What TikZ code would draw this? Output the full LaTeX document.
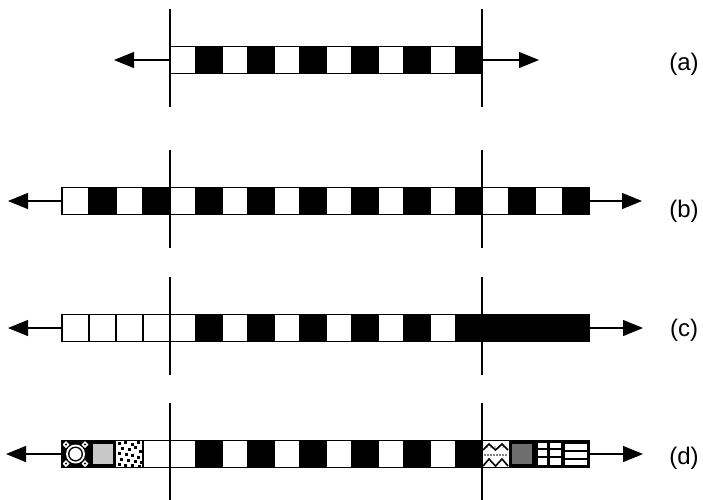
\documentclass[tikz,border=0pt]{standalone}
\usepackage{fontspec}
\setmainfont{Liberation Sans}
\usetikzlibrary{arrows.meta}
\def\XX{{62,89,116,143,170,196,222,248,274,300,326,352,378,404,430,456,482,508.75,535.5,562.25,589}}
\newcommand\mycell[3]{%
  \pgfmathsetmacro\xa{\XX[#2]}\pgfmathsetmacro\xb{\XX[#2+1]}%
  \path[#3] (\xa,#1-13.5) rectangle (\xb,#1+13.5);}
\begin{document}
\begin{tikzpicture}[x=1pt,y=-1pt,
  wcell/.style={fill=white,draw=black,line width=1.2pt},
  bcell/.style={fill=black,draw=black,line width=1.2pt},
  frame/.style={draw=black,line width=1.8pt},
  guide/.style={line width=2pt},
  arr/.style={line width=1.2pt,-{Triangle[length=20pt,width=16pt]}},
  lbl/.style={font=\fontsize{24}{28}\selectfont, anchor=center, inner sep=0pt}]
\useasboundingbox[fill=white] (0,0) rectangle (703,499);
% ---------- (a)
\def\ry{60}
\foreach \i in {4,...,15}{\pgfmathparse{mod(\i,2)==0?"wcell":"bcell"}\edef\st{\pgfmathresult}\mycell{\ry}{\i}{\st}}
\path[frame] (170,\ry-13.5) rectangle (482,\ry+13.5);
\draw[guide] (170,\ry-51) -- (170,\ry+47);
\draw[guide] (482,\ry-51) -- (482,\ry+47);
\coordinate (aL) at (170,\ry); \coordinate (aLt) at (114,\ry);
\coordinate (aR) at (482,\ry); \coordinate (aRt) at (539,\ry);
\draw[arr] (aL) -- (aLt); \draw[arr] (aR) -- (aRt);
\node[lbl] (la) at (684,\ry+4) {(a)};
% ---------- (b)
\def\ry{201}
\foreach \i in {0,...,19}{\pgfmathparse{mod(\i,2)==0?"wcell":"bcell"}\edef\st{\pgfmathresult}\mycell{\ry}{\i}{\st}}
\path[frame] (62,\ry-13.5) rectangle (589,\ry+13.5);
\draw[guide] (170,\ry-51) -- (170,\ry+47);
\draw[guide] (482,\ry-51) -- (482,\ry+47);
\coordinate (bL) at (62,\ry); \coordinate (bLt) at (8,\ry);
\coordinate (bR) at (589,\ry); \coordinate (bRt) at (642,\ry);
\draw[arr] (bL) -- (bLt); \draw[arr] (bR) -- (bRt);
\node[lbl] (lb) at (684,\ry+10) {(b)};
% ---------- (c)
\def\ry{328}
\foreach \i in {0,...,4}{\mycell{\ry}{\i}{wcell}}
\foreach \i in {5,...,14}{\pgfmathparse{mod(\i,2)==0?"wcell":"bcell"}\edef\st{\pgfmathresult}\mycell{\ry}{\i}{\st}}
\path[bcell] (456,\ry-13.5) rectangle (589,\ry+13.5);
\path[frame] (62,\ry-13.5) rectangle (589,\ry+13.5);
\draw[guide] (170,\ry-51) -- (170,\ry+47);
\draw[guide] (482,\ry-51) -- (482,\ry+47);
\coordinate (cL) at (62,\ry); \coordinate (cLt) at (8,\ry);
\coordinate (cR) at (589,\ry); \coordinate (cRt) at (643,\ry);
\draw[arr] (cL) -- (cLt); \draw[arr] (cR) -- (cRt);
\node[lbl] (lc) at (684,\ry+2) {(c)};
% ---------- (d)
\def\ry{454}
% cell 0: ring pattern
\fill[black] (62,\ry-13.5) rectangle (89,\ry+13.5);
\fill[white] (75.5,\ry) circle (9.5);
\fill[black] (75.5,\ry) circle (7.5);
\fill[white] (75.5,\ry) circle (6);
\foreach \dx/\dy in {-9.5/-9.5,9.5/-9.5,-9.5/9.5,9.5/9.5}{
  \fill[white] (75.5+\dx,\ry+\dy-3.5) -- (75.5+\dx+3.5,\ry+\dy) -- (75.5+\dx,\ry+\dy+3.5) -- (75.5+\dx-3.5,\ry+\dy) -- cycle;
  \fill[black] (75.5+\dx,\ry+\dy) circle (1.2);}
% cell 1: light grey
\path[fill={rgb,255:red,200;green,200;blue,200},draw=black,line width=3.5pt] (90.75,\ry-11.75) rectangle (114.25,\ry+11.75);
% cell 2: dots
\fill[white] (116,\ry-13.5) rectangle (143,\ry+13.5);
\foreach \px/\py in {118/-11,124/-12,131/-10,137/-12,121/-6,128/-5,134/-7,139/-3,118/-1,125/0,131/1,137/3,120/5,127/6,134/7,140/8,118/10,124/11,131/11,138/12}{
  \fill[black] (\px,\ry+\py-1.5) rectangle (\px+3.2,\ry+\py+1.5);}
% cells 3,4 white
\mycell{\ry}{3}{wcell}\mycell{\ry}{4}{wcell}
\foreach \i in {5,...,15}{\pgfmathparse{mod(\i,2)==0?"wcell":"bcell"}\edef\st{\pgfmathresult}\mycell{\ry}{\i}{\st}}
% cell 16: zigzag
\fill[white] (482,\ry-13.5) rectangle (508.75,\ry+13.5);
\draw[black,line width=1.6pt] (483,\ry-4) -- (489,\ry-10) -- (495.5,\ry-4) -- (502,\ry-10) -- (508,\ry-4);
\draw[black,line width=1.6pt] (483,\ry+12) -- (489,\ry+5) -- (495.5,\ry+12) -- (502,\ry+5) -- (508,\ry+12);
\foreach \px in {485,488,491,494,497,500,503,506}{\fill[black] (\px,\ry+1) circle (0.9);}
\foreach \px in {487,491,495,499,503}{\fill[black] (\px,\ry-7) circle (0.7);}
% cell 17: dark grey
\path[fill={rgb,255:red,110;green,110;blue,110},draw=black,line width=3.5pt] (510.5,\ry-11.75) rectangle (533.75,\ry+11.75);
% cell 18: window pattern
\fill[black] (535.5,\ry-13.5) rectangle (562.25,\ry+13.5);
\fill[white] (537.5,\ry-11) rectangle (547,\ry-6.5);
\fill[white] (550,\ry-11) rectangle (560.5,\ry-6.5);
\fill[white] (537.5,\ry-4) rectangle (547,\ry+11);
\fill[white] (550,\ry-4) rectangle (560.5,\ry+11);
\fill[black] (537.5,\ry+1.5) rectangle (560.5,\ry+3.5);
% cell 19: horizontal bars
\fill[black] (562.25,\ry-13.5) rectangle (589,\ry+13.5);
\fill[white] (564.5,\ry-10.5) rectangle (587,\ry-4);
\fill[white] (564.5,\ry-2) rectangle (587,\ry+3.5);
\fill[white] (564.5,\ry+5.5) rectangle (587,\ry+11);
\path[frame] (62,\ry-13.5) rectangle (589,\ry+13.5);
\draw[guide] (170,\ry-51) -- (170,\ry+47);
\draw[guide] (482,\ry-51) -- (482,\ry+47);
\coordinate (dL) at (62,\ry); \coordinate (dLt) at (6,\ry);
\coordinate (dR) at (589,\ry); \coordinate (dRt) at (643,\ry);
\draw[arr] (dL) -- (dLt); \draw[arr] (dR) -- (dRt);
\node[lbl] (ld) at (684,\ry+4) {(d)};
\end{tikzpicture}
\end{document}
